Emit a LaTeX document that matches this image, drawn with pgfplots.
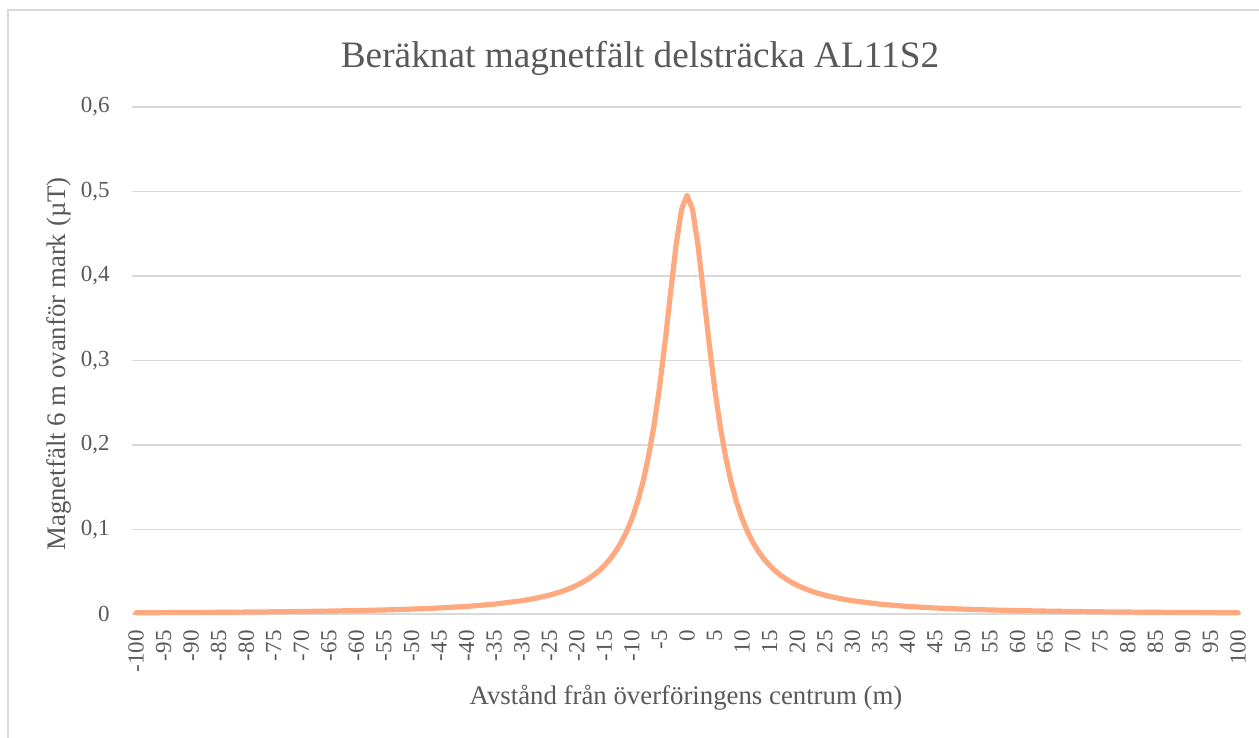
\documentclass[border=0pt]{standalone}
\usepackage{fontspec}
\setmainfont{Liberation Serif}
\usepackage{pgfplots}
\pgfplotsset{compat=1.18}
\definecolor{txt}{HTML}{595959}
\definecolor{gridc}{HTML}{D9D9D9}
\definecolor{lineC}{HTML}{FFA980}
\begin{document}
\begin{tikzpicture}[x=0.5pt,y=0.5pt]
\useasboundingbox (0,0) rectangle (1259,738);
\draw[gridc, line width=1pt] (8,-10) -- (8,728) -- (1270,728);
\begin{axis}[
  at={(66pt,62pt)}, anchor=south west,
  scale only axis, width=554.5pt, height=253.5pt,
  xmin=-100.73, xmax=100.54, ymin=0, ymax=0.6,
  axis line style={draw=none},
  major tick length=0pt,
  ytick={0,0.1,...,0.6},
  ymajorgrids, grid style={gridc, line width=0.8pt},
  xtick={-100,-95,...,100},
  xticklabels={-100,-95,-90,-85,-80,-75,-70,-65,-60,-55,-50,-45,-40,-35,-30,-25,-20,-15,-10,-5,0,5,10,15,20,25,30,35,40,45,50,55,60,65,70,75,80,85,90,95,100},
  /pgf/number format/assume math mode=true,
  /pgf/number format/use comma,
  yticklabel={\pgfmathprintnumber[fixed,precision=1,use comma]{\tick}},
  yticklabel style={font=\fontsize{11.5}{13}\selectfont, text=txt, anchor=east, inner sep=0pt, xshift=-11pt},
  xticklabel style={font=\fontsize{11.5}{13}\selectfont, text=txt, rotate=90, anchor=east, inner sep=0pt, xshift=-8pt},
  clip=false,
]
\addplot[lineC, line width=2.6pt, line join=round, line cap=round] coordinates {
(-100,0.00146) (-95,0.00161) (-90,0.00180) (-85,0.00201) (-80,0.00227)
(-75,0.00258) (-70,0.00296) (-65,0.00343) (-60,0.00402) (-55,0.00478)
(-50,0.00577) (-45,0.00711) (-40,0.00896) (-35,0.01164) (-30,0.0157)
(-29,0.0168) (-28,0.0180) (-27,0.0193) (-26,0.0207) (-25,0.0223)
(-24,0.0241) (-23,0.0261) (-22,0.0284) (-21,0.0310) (-20,0.0340)
(-19,0.0374) (-18,0.0413) (-17,0.0458) (-16,0.0511) (-15,0.0574)
(-14,0.0648) (-13,0.0736) (-12,0.0842) (-11,0.0970) (-10,0.1128)
(-9,0.1321) (-8,0.1562) (-7,0.1860) (-6,0.2229) (-5,0.2679)
(-4,0.3209) (-3,0.3793) (-2,0.4359) (-1,0.4788) (0,0.4955)
(1,0.4788) (2,0.4359) (3,0.3793) (4,0.3209) (5,0.2679)
(6,0.2229) (7,0.1860) (8,0.1562) (9,0.1321) (10,0.1128)
(11,0.0970) (12,0.0842) (13,0.0736) (14,0.0648) (15,0.0574)
(16,0.0511) (17,0.0458) (18,0.0413) (19,0.0374) (20,0.0340)
(21,0.0310) (22,0.0284) (23,0.0261) (24,0.0241) (25,0.0223)
(26,0.0207) (27,0.0193) (28,0.0180) (29,0.0168) (30,0.0157)
(35,0.01164) (40,0.00896) (45,0.00711) (50,0.00577) (55,0.00478)
(60,0.00402) (65,0.00343) (70,0.00296) (75,0.00258) (80,0.00227)
(85,0.00201) (90,0.00180) (95,0.00161) (100,0.00146)
};
\end{axis}
\node[anchor=base, text=txt, font=\fontsize{18.65}{22}\selectfont, inner sep=0pt] at (640,670) {Beräknat magnetfält delsträcka AL11S2};
\node[anchor=base, text=txt, font=\fontsize{13.4}{15}\selectfont, inner sep=0pt] at (686,33) {Avstånd från överföringens centrum (m)};
\node[anchor=base, rotate=90, text=txt, font=\fontsize{13.4}{15}\selectfont, inner sep=0pt] at (65,374) {Magnetfält 6 m ovanför mark (µT)};
\end{tikzpicture}
\end{document}
